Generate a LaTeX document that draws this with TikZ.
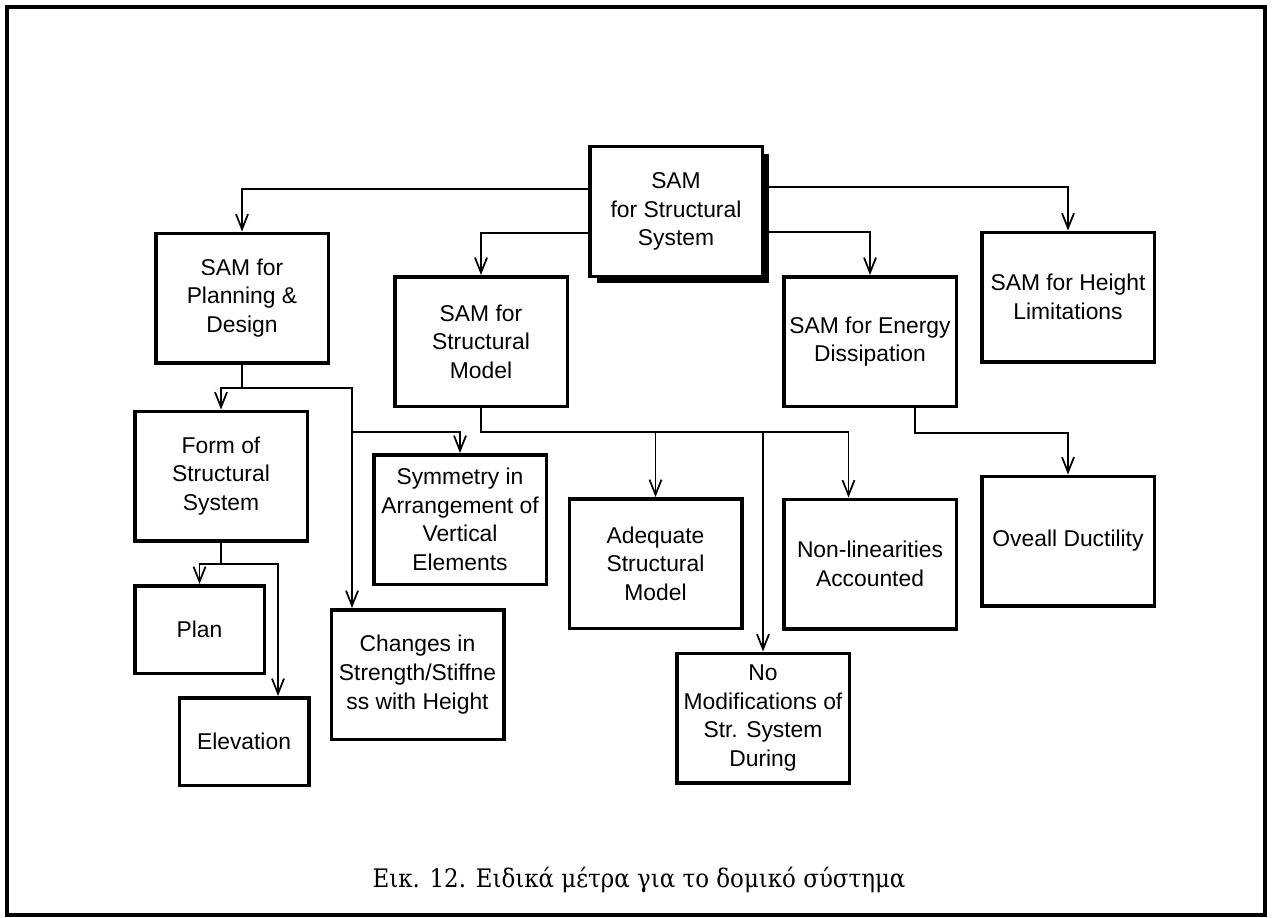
\documentclass[tikz,border=0pt]{standalone}
\usepackage{fontspec}
\setsansfont{Liberation Sans}
\newfontfamily\capfont[FakeStretch=0.9]{DejaVu Serif}
\usepackage{tikz}
\usetikzlibrary{arrows.meta, positioning, shadows}

\begin{document}
\begin{tikzpicture}[
    box/.style={draw, line width=0.7mm, align=center, minimum width=34.5mm, minimum height=25.9mm, inner sep=1mm, font=\sffamily\fontsize{13}{16.3}\selectfont},
    topbox/.style={box, fill=white, drop shadow={shadow xshift=1.4mm, shadow yshift=-1.4mm, fill=black, opacity=1}},
    smallbox/.style={box, minimum width=25.9mm, minimum height=17.5mm},
    arr/.style={-{Straight Barb[length=3mm, width=2.4mm]}, line width=0.35mm},
    frameline/.style={line width=0.8mm},
    captext/.style={font=\capfont\fontsize{14.5}{17}\selectfont}
]
\useasboundingbox (0,0) rectangle (254.8mm,-183.6mm);
\draw[frameline] (1.4mm,-1.4mm) rectangle (253mm,-183mm);

% top level
\node[topbox] (sys) at (135.2mm,-42.3mm) {SAM\\for Structural\\System};
\node[box, left=51.6mm of sys, yshift=-17.3mm] (pland) {SAM for\\Planning \&\\Design};
\node[box, right=12.6mm of pland, yshift=-8.7mm] (model) {SAM for\\Structural\\Model};
\node[box, right=42.6mm of model] (energy) {SAM for Energy\\Dissipation};
\node[box, right=4.4mm of energy, yshift=8.9mm] (height) {SAM for Height\\Limitations};

% second level
\node[box, below=9mm of pland, xshift=-4.2mm] (form) {Form of\\Structural\\System};
\node[box, below=9mm of model, xshift=-4.2mm] (sym) {Symmetry in\\Arrangement of\\Vertical\\Elements};
\node[box, below=4.4mm of sym, xshift=-8.5mm] (chg) {Changes in\\Strength/Stiffne\\ss with Height};
\node[box, right=3.9mm of sym, yshift=-8.8mm] (adeq) {Adequate\\Structural\\Model};
\node[box, below=4.3mm of adeq, xshift=21.5mm] (nomod) {No\\Modifications of\\Str. System\\During};
\node[box, below=17.9mm of energy] (nonlin) {Non-linearities\\Accounted};
\node[box, below=22.2mm of height] (duct) {Oveall Ductility};

% third level
\node[smallbox, below=8.3mm of form, xshift=-4.3mm] (plan) {Plan};
\node[smallbox, below=4.2mm of plan, xshift=8.9mm] (elev) {Elevation};

\node[captext, anchor=base] (cap) at (127.8mm,-177.4mm) {Εικ. 12. Ειδικά μέτρα για το δομικό σύστημα};

\coordinate (pbus) at ([yshift=-4.7mm]pland.south);
\coordinate (mbus) at ([yshift=-4.8mm]model.south);
\coordinate (pdrop) at ([xshift=4.5mm]chg.north west);

\draw[arr] ([yshift=4.5mm]sys.west) -| (pland.north);
\draw[arr] ([yshift=-4.3mm]sys.west) -| (model.north);
\draw[arr] ([yshift=-4.1mm]sys.east) -| (energy.north);
\draw[arr] ([yshift=4.9mm]sys.east) -| (height.north);
\draw[arr] (pland.south) -- (pbus) -| (form.north);
\draw[arr] (pbus) -| (pdrop);
\draw[arr] (pdrop |- mbus) -| (sym.north);
\draw[arr] (model.south) -- (mbus) -| (adeq.north);
\draw[arr] (mbus) -| (nomod.north);
\draw[arr] (mbus) -| ([xshift=-4.3mm]nonlin.north);
\draw[arr] ([xshift=9mm]energy.south) -- ++(0,-5mm) -| (duct.north);
\draw[arr] (form.south) -- ++(0,-4.3mm) -| (plan.north);
\draw[arr] (form.south) -- ++(0,-4.3mm) -| ([xshift=6.8mm]elev.north);
\end{tikzpicture}
\end{document}
